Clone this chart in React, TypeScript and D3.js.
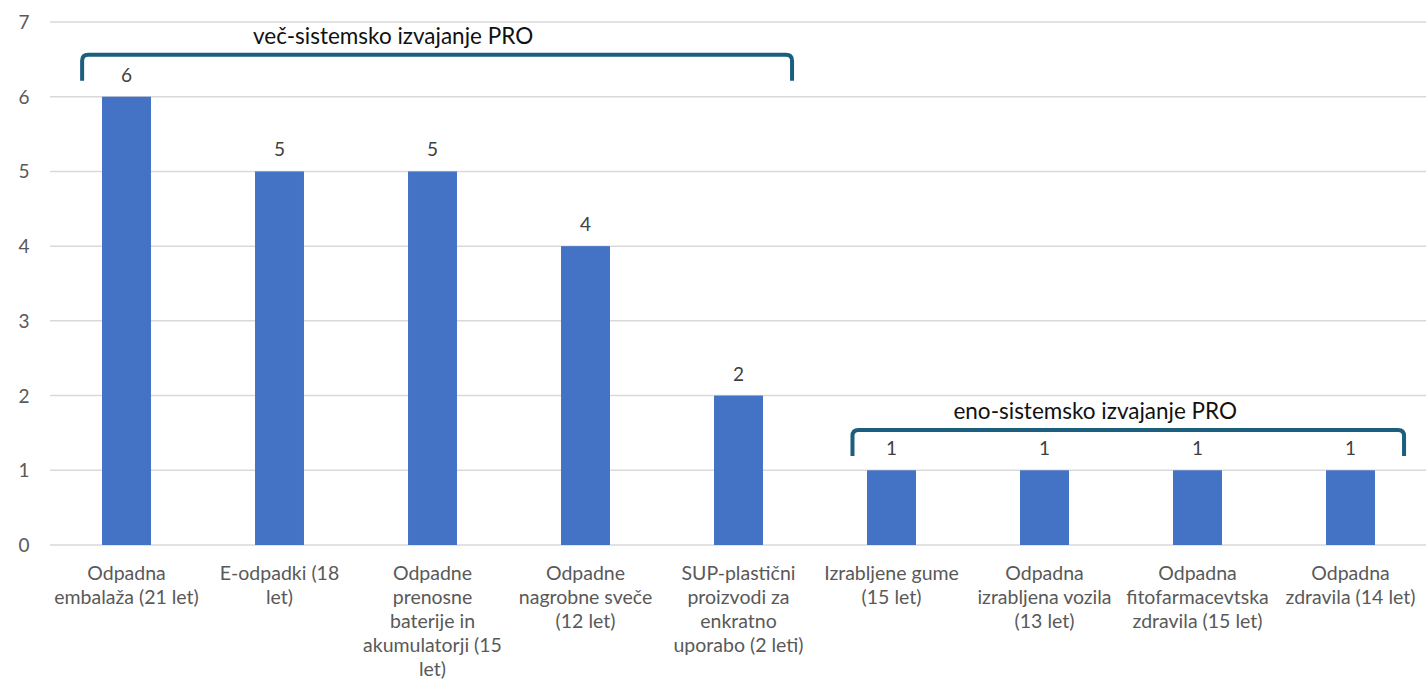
import * as d3 from "d3"
import { useRef, useEffect } from "react"

const categories = [
  ["Odpadna", "embalaža (21 let)"],
  ["E-odpadki (18", "let)"],
  ["Odpadne", "prenosne", "baterije in", "akumulatorji (15", "let)"],
  ["Odpadne", "nagrobne sveče", "(12 let)"],
  ["SUP-plastični", "proizvodi za", "enkratno", "uporabo (2 leti)"],
  ["Izrabljene gume", "(15 let)"],
  ["Odpadna", "izrabljena vozila", "(13 let)"],
  ["Odpadna", "fitofarmacevtska", "zdravila (15 let)"],
  ["Odpadna", "zdravila (14 let)"],
]
const values = [6, 5, 5, 4, 2, 1, 1, 1, 1]
const yTicks = [0, 1, 2, 3, 4, 5, 6, 7]
// groups: [first index, last index, label, bracket top value]
const groups: [number, number, string, number][] = [
  [0, 4, "več-sistemsko izvajanje PRO", 6.56],
  [5, 8, "eno-sistemsko izvajanje PRO", 1.54],
]

export default function App() {
  const svgRef = useRef<SVGSVGElement>(null)

  useEffect(() => {
    if (!svgRef.current) return
    const width = 1426
    const height = 687
    const margin = { top: 22, right: 0, bottom: 142, left: 50 }
    const font = "Lato, sans-serif"

    const svg = d3.select(svgRef.current)
    svg.selectAll("*").remove()

    const ids = categories.map((_, i) => String(i))
    const xScale = d3
      .scaleBand()
      .domain(ids)
      .range([margin.left, 1427])
      .paddingInner(0.68)
      .paddingOuter(0.34)

    const yScale = d3
      .scaleLinear()
      .domain([0, 7])
      .range([height - margin.bottom, margin.top])

    svg
      .append("g")
      .selectAll("line")
      .data(yTicks)
      .enter()
      .append("line")
      .attr("x1", margin.left)
      .attr("x2", width)
      .attr("y1", (d) => yScale(d))
      .attr("y2", (d) => yScale(d))
      .attr("stroke", "#D9D9D9")
      .attr("stroke-width", 1.5)

    svg
      .append("g")
      .selectAll("text")
      .data(yTicks)
      .enter()
      .append("text")
      .attr("x", 24)
      .attr("y", (d) => yScale(d) + 7)
      .attr("text-anchor", "middle")
      .style("font-family", font)
      .style("font-size", "19px")
      .style("fill", "#595959")
      .text((d) => d)

    svg
      .append("g")
      .selectAll("rect")
      .data(values)
      .enter()
      .append("rect")
      .attr("x", (_, i) => xScale(ids[i]) ?? 0)
      .attr("y", (d) => yScale(d))
      .attr("width", xScale.bandwidth())
      .attr("height", (d) => yScale(0) - yScale(d))
      .attr("fill", "#4472C4")

    svg
      .append("g")
      .selectAll("text")
      .data(values)
      .enter()
      .append("text")
      .attr("x", (_, i) => (xScale(ids[i]) ?? 0) + xScale.bandwidth() / 2)
      .attr("y", (d) => yScale(d) - 15)
      .attr("text-anchor", "middle")
      .style("font-family", font)
      .style("font-size", "19px")
      .style("fill", "#404040")
      .text((d) => d)

    const catLabels = svg.append("g")
    categories.forEach((lines, i) => {
      const cx = (xScale(ids[i]) ?? 0) + xScale.bandwidth() / 2
      const t = catLabels
        .append("text")
        .attr("text-anchor", "middle")
        .style("font-family", font)
        .style("font-size", "19.5px")
        .style("fill", "#595959")
      lines.forEach((line, j) => {
        t.append("tspan")
          .attr("x", cx)
          .attr("y", yScale(0) + 35 + j * 24)
          .text(line)
      })
    })

    const step = xScale.step()
    groups.forEach(([a, b, label, top], gi) => {
      const x1 = (xScale(ids[a]) ?? 0) + xScale.bandwidth() / 2 - step * (gi === 0 ? 0.29 : 0.255)
      const x2 = (xScale(ids[b]) ?? 0) + xScale.bandwidth() / 2 + step * 0.35
      const y1 = yScale(top)
      const y2 = y1 + 26
      const r = 6
      svg
        .append("path")
        .attr(
          "d",
          `M${x1},${y2} L${x1},${y1 + r} Q${x1},${y1} ${x1 + r},${y1} L${x2 - r},${y1} Q${x2},${y1} ${x2},${y1 + r} L${x2},${y2}`,
        )
        .attr("fill", "none")
        .attr("stroke", "#1B5E7E")
        .attr("stroke-width", 4)
      svg
        .append("text")
        .attr("x", (x1 + x2) / 2 - (gi === 0 ? 44 : 33))
        .attr("y", y1 - 11)
        .attr("text-anchor", "middle")
        .style("font-family", font)
        .style("font-size", "22.5px")
        .style("fill", "#111111")
        .text(label)
    })
  }, [])

  return (
    <div style={{ position: "absolute", left: 0, top: 0 }}>
      <svg ref={svgRef} width={1426} height={687} style={{ display: "block" }}></svg>
    </div>
  )
}
